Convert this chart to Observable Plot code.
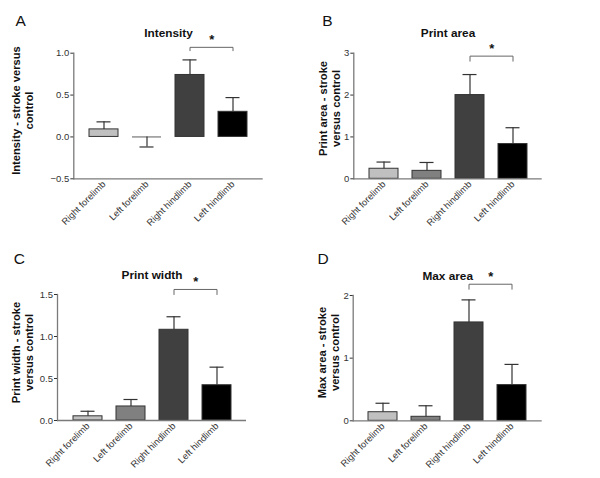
<!DOCTYPE html>
<html>
<head>
<meta charset="utf-8">
<script src="https://cdn.jsdelivr.net/npm/d3@7"></script>
<script src="https://cdn.jsdelivr.net/npm/@observablehq/plot@0.6"></script>
<style>
  html, body { margin: 0; padding: 0; background: #fff; }
  #wrap { position: relative; width: 600px; height: 478px; overflow: hidden; }
  .panel { position: absolute; }
  .panel svg { display: block; }
</style>
</head>
<body>
<div id="wrap"></div>
<script>
// ---- Data ----
const limbs = ["Right forelimb", "Left forelimb", "Right hindlimb", "Left hindlimb"];

// Panel A: Intensity
const intensityMean   = [0.09, 0.00, 0.74, 0.30];
const intensityErrEnd = [0.18, -0.12, 0.92, 0.47];
const intensityTicks  = [-0.5, 0.0, 0.5, 1.0];

// Panel B: Print area
const areaMean   = [0.24, 0.19, 2.00, 0.83];
const areaErrEnd = [0.40, 0.39, 2.49, 1.22];
const areaTicks  = [0, 1, 2, 3];

// Panel C: Print width
const widthMean   = [0.05, 0.167, 1.08, 0.42];
const widthErrEnd = [0.11, 0.25, 1.235, 0.635];
const widthTicks  = [0.0, 0.5, 1.0, 1.5];

// Panel D: Max area
const maxAreaMean   = [0.137, 0.064, 1.57, 0.57];
const maxAreaErrEnd = [0.28, 0.24, 1.93, 0.90];
const maxAreaTicks  = [0, 1, 2];

// Significance brackets (data units): [bottom of legs, top]
const bracketA = [1.03, 1.07];
const bracketB = [2.81, 2.93];
const bracketC = [1.50, 1.56];
const bracketD = [2.10, 2.18];

const barColors = ["#c0c0c0", "#808080", "#404040", "#000000"];
const FONT = "'Liberation Sans', Arial, Helvetica, sans-serif";

function panel(cfg) {
  const rows = limbs.map((limb, i) => ({limb, mean: cfg.mean[i], err: cfg.err[i]}));
  const br = [
    {limb: limbs[2], y: cfg.bracket[0]},
    {limb: limbs[2], y: cfg.bracket[1]},
    {limb: limbs[3], y: cfg.bracket[1]},
    {limb: limbs[3], y: cfg.bracket[0]}
  ];
  const m = cfg.margin;
  const step = (300 - m[1] - m[3]) / (4 - 0.33 + 0.66);
  const axisGray = "#7a7a7a";
  return Plot.plot({
    width: 300,
    height: cfg.height,
    marginTop: m[0], marginRight: m[1], marginBottom: m[2], marginLeft: m[3],
    style: {fontFamily: FONT, background: "transparent", overflow: "visible"},
    x: {domain: limbs, padding: 0.33, label: null},
    y: {domain: cfg.yDomain, label: null},
    color: {domain: limbs, range: barColors},
    marks: [
      Plot.barY(rows, {x: "limb", y: "mean", fill: "limb", stroke: "#333", strokeWidth: 1}),
      Plot.tickY(rows.filter(d => d.mean === 0), {x: "limb", y: "mean", stroke: "#777", strokeWidth: 1.2}),
      Plot.ruleX(rows, {x: "limb", y1: "mean", y2: "err", stroke: "#333", strokeWidth: 1.2}),
      Plot.tickY(rows, {x: "limb", y: "err", stroke: "#333", strokeWidth: 1.2, insetLeft: 7.5, insetRight: 7.5}),
      Plot.ruleY([cfg.yDomain[0]], {stroke: axisGray, strokeWidth: 1.3}),
      Plot.frame({anchor: "left", stroke: axisGray, strokeWidth: 1.3}),
      Plot.axisY({ticks: cfg.ticks, tickFormat: cfg.fmt, tickSize: 3, tickPadding: 1.5,
                  fontSize: 9.5, color: "#333", label: null}),
      Plot.axisX({tickRotate: -45, tickSize: 0, tickPadding: 4, fontSize: 9.3, color: "#333", label: null}),
      Plot.line(br, {x: "limb", y: "y", stroke: "#666", strokeWidth: 1}),
      Plot.text([br[1]], {x: "limb", y: "y", text: () => "*", dx: step / 2, dy: -7.5,
                          fontSize: 13, fontWeight: "bold", fill: "#111"}),
      Plot.text([cfg.title], {text: d => d, frameAnchor: "top", dy: -16, lineAnchor: "bottom",
                              fontSize: 11.8, fontWeight: "bold", fill: "#111"}),
      Plot.text([cfg.ylabel], {text: d => d, frameAnchor: "left", rotate: -90, textAnchor: "middle",
                               lineAnchor: "middle", dx: cfg.labelDx, dy: cfg.labelDy,
                               fontSize: 11.2, fontWeight: "bold", lineHeight: 1.15, fill: "#111"}),
      Plot.text([cfg.letter], {text: d => d, frameAnchor: "top-left", textAnchor: "start",
                               lineAnchor: "bottom", dx: cfg.letterDx, dy: cfg.letterDy,
                               fontSize: 15.5, fill: "#111"})
    ]
  });
}

const panels = [
  {left: 0, top: 0, height: 240, margin: [52.7, 37.3, 61.7, 73.3],
   mean: intensityMean, err: intensityErrEnd, yDomain: [-0.5, 1.0], ticks: intensityTicks, fmt: d3.format(".1f"),
   bracket: bracketA, title: "Intensity", ylabel: "Intensity - stroke versus\ncontrol", letter: "A",
   labelDx: -51, labelDy: -5.5, letterDx: -58.3, letterDy: -27.7},
  {left: 300, top: 0, height: 240, margin: [52.7, 58.3, 61.7, 53.3],
   mean: areaMean, err: areaErrEnd, yDomain: [0, 3], ticks: areaTicks, fmt: d3.format("d"),
   bracket: bracketB, title: "Print area", ylabel: "Print area - stroke\nversus control", letter: "B",
   labelDx: -24, labelDy: -7.5, letterDx: -31.6, letterDy: -27.7},
  {left: 0, top: 240, height: 238, margin: [54, 54, 58, 57],
   mean: widthMean, err: widthErrEnd, yDomain: [0, 1.5], ticks: widthTicks, fmt: d3.format(".1f"),
   bracket: bracketC, title: "Print width", ylabel: "Print width - stroke\nversus control", letter: "C",
   labelDx: -35.3, labelDy: -5, letterDx: -43.7, letterDy: -31},
  {left: 300, top: 240, height: 238, margin: [55, 58.3, 57.7, 52.7],
   mean: maxAreaMean, err: maxAreaErrEnd, yDomain: [0, 2], ticks: maxAreaTicks, fmt: d3.format("d"),
   bracket: bracketD, title: "Max area", ylabel: "Max area - stroke\nversus control", letter: "D",
   labelDx: -24.4, labelDy: -5.6, letterDx: -35.7, letterDy: -31.5}
];

const wrap = document.getElementById("wrap");
for (const cfg of panels) {
  const div = document.createElement("div");
  div.className = "panel";
  div.style.left = cfg.left + "px";
  div.style.top = cfg.top + "px";
  div.appendChild(panel(cfg));
  wrap.appendChild(div);
}
</script>
</body>
</html>
